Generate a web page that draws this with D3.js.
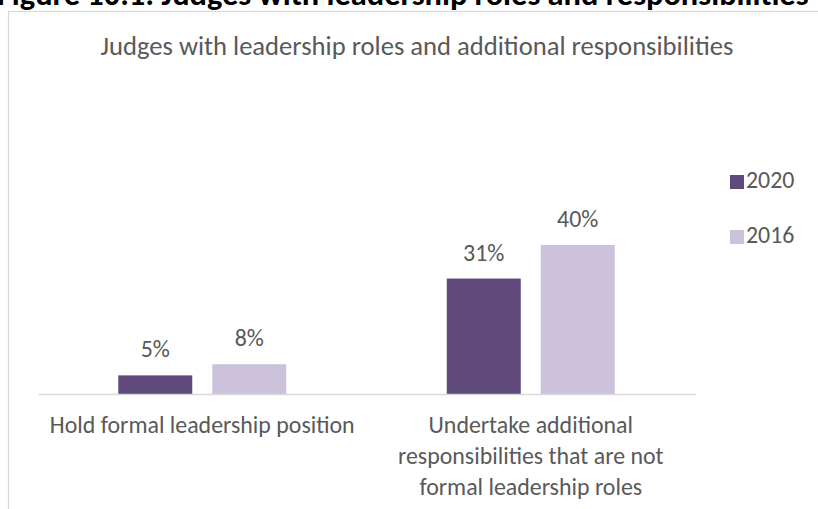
<!DOCTYPE html>
<html>
<head>
<meta charset="utf-8">
<script src="https://cdn.jsdelivr.net/npm/d3@7"></script>
<style>
  html, body { margin: 0; padding: 0; background: #ffffff; }
  svg { display: block; }
  text { font-family: Carlito, Calibri, Lato, "Open Sans", sans-serif; }
</style>
</head>
<body>
<svg id="chart" width="818" height="509"></svg>
<script>
// ---- data ----
const pageTitle = "Figure 10.1: Judges with leadership roles and responsibilities";
const chartTitle = "Judges with leadership roles and additional responsibilities";
const categories = [
  ["Hold formal leadership position"],
  ["Undertake additional", "responsibilities that are not", "formal leadership roles"]
];
const categoryKeys = ["Hold formal leadership position", "Undertake additional responsibilities that are not formal leadership roles"];
const seriesNames = ["2020", "2016"];
const values2020 = [5, 31];
const values2016 = [8, 40];
const colors = ["#604A7B", "#CCC1DA"];

const seriesValues = [values2020, values2016];
const data = categoryKeys.map((c, i) => ({
  cat: c,
  vals: seriesNames.map((s, j) => ({ series: s, value: seriesValues[j][i] }))
}));

const svg = d3.select("#chart");
const textColor = "#595959";

// fit helper: set font size so text width matches target
function fitSize(str, target, weight) {
  const t = svg.append("text").attr("font-size", 20).attr("font-weight", weight || "normal").text(str);
  const w = t.node().getComputedTextLength();
  t.remove();
  return 20 * target / w;
}

// frame
svg.append("rect")
  .attr("x", 8.5).attr("y", 11.5)
  .attr("width", 900).attr("height", 600)
  .attr("fill", "#ffffff")
  .attr("stroke", "#d9d9d9").attr("stroke-width", 1.2);

// page title (clipped at top)
const ptSize = fitSize(pageTitle, 812, "bold");
svg.append("text")
  .attr("x", -3).attr("y", 5)
  .attr("font-size", ptSize).attr("font-weight", "bold")
  .attr("fill", "#000000")
  .text(pageTitle);

// chart title
const ctSize = fitSize(chartTitle, 633);
svg.append("text")
  .attr("x", 417).attr("y", 55)
  .attr("text-anchor", "middle")
  .attr("font-size", ctSize)
  .attr("fill", textColor)
  .text(chartTitle);

const baseSize = fitSize(categories[0][0], 305);

// scales
const x0 = d3.scaleBand()
  .domain(categoryKeys)
  .range([38, 695])
  .paddingInner(0.4886)
  .paddingOuter(0.2443);

const x1 = d3.scaleBand()
  .domain(seriesNames)
  .range([0, x0.bandwidth()])
  .paddingInner(20 / 94)
  .paddingOuter(0);

const y = d3.scaleLinear()
  .domain([0, d3.max(seriesValues.flat())])
  .range([394, 245]);

const color = d3.scaleOrdinal().domain(seriesNames).range(colors);

// bars
const groups = svg.append("g").selectAll("g")
  .data(data).join("g")
  .attr("transform", d => `translate(${x0(d.cat)},0)`);

groups.selectAll("rect")
  .data(d => d.vals).join("rect")
  .attr("x", d => x1(d.series))
  .attr("y", d => y(d.value))
  .attr("width", x1.bandwidth())
  .attr("height", d => y(0) - y(d.value))
  .attr("fill", d => color(d.series));

groups.selectAll("text.val")
  .data(d => d.vals).join("text")
  .attr("class", "val")
  .attr("x", d => x1(d.series) + x1.bandwidth() / 2)
  .attr("y", d => y(d.value) - 18)
  .attr("text-anchor", "middle")
  .attr("font-size", baseSize)
  .attr("fill", textColor)
  .text(d => d.value + "%");

// axis
const xAxis = d3.axisBottom(x0).tickSize(0).tickFormat("");
const axisG = svg.append("g")
  .attr("transform", `translate(0,${y(0)})`)
  .call(xAxis);
axisG.select(".domain").attr("stroke", "#d9d9d9").attr("stroke-width", 1.5);

// category labels
categories.forEach((lines, i) => {
  const cx = x0(categoryKeys[i]) + x0.bandwidth() / 2;
  const t = svg.append("text")
    .attr("text-anchor", "middle")
    .attr("font-size", baseSize)
    .attr("fill", textColor);
  lines.forEach((ln, k) => {
    t.append("tspan").attr("x", cx).attr("y", 433 + k * 31).text(ln);
  });
});

// legend
const legend = svg.append("g").selectAll("g")
  .data(seriesNames).join("g")
  .attr("transform", (d, i) => `translate(730,${175 + i * 55})`);
legend.append("rect")
  .attr("width", 14).attr("height", 14)
  .attr("fill", d => color(d));
legend.append("text")
  .attr("x", 16).attr("y", 13)
  .attr("font-size", baseSize)
  .attr("fill", textColor)
  .text(d => d);
</script>
</body>
</html>
